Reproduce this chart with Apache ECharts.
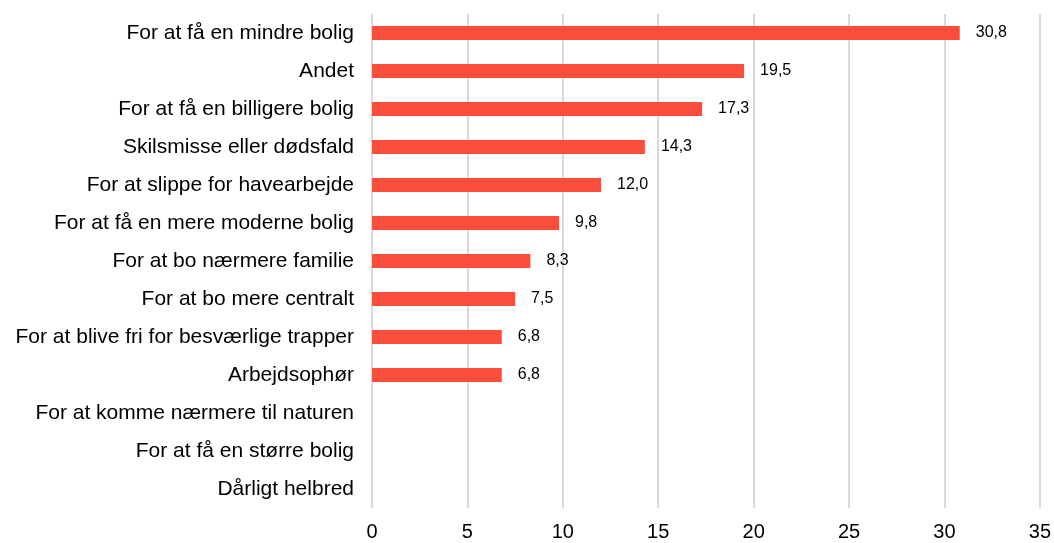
<!DOCTYPE html>
<html><head><meta charset="utf-8">
<script src="https://cdn.jsdelivr.net/npm/echarts@6/dist/echarts.min.js"></script>
<style>html,body{margin:0;padding:0;background:#fff}#c{width:1054px;height:543px}</style>
</head><body><div id="c"></div>
<script>
const categories = [
  "For at få en mindre bolig",
  "Andet",
  "For at få en billigere bolig",
  "Skilsmisse eller dødsfald",
  "For at slippe for havearbejde",
  "For at få en mere moderne bolig",
  "For at bo nærmere familie",
  "For at bo mere centralt",
  "For at blive fri for besværlige trapper",
  "Arbejdsophør",
  "For at komme nærmere til naturen",
  "For at få en større bolig",
  "Dårligt helbred"
];
const values = [30.8, 19.5, 17.3, 14.3, 12.0, 9.8, 8.3, 7.5, 6.8, 6.8, null, null, null];
const xTicks = [0, 5, 10, 15, 20, 25, 30, 35];

const chart = echarts.init(document.getElementById('c'), null, {renderer: 'canvas'});
chart.setOption({
  animation: false,
  grid: {left: 372, right: 13, top: 14, bottom: 35, containLabel: false},
  xAxis: {
    type: 'value', min: xTicks[0], max: xTicks[xTicks.length - 1], interval: 5,
    axisLine: {show: false}, axisTick: {show: false},
    axisLabel: {color: '#000', fontSize: 20, fontFamily: 'Liberation Sans, Arial, sans-serif', margin: 14},
    splitLine: {show: true, lineStyle: {color: '#d9d9d9', width: 2}}
  },
  yAxis: {
    type: 'category', data: categories, inverse: true,
    axisLine: {show: false}, axisTick: {show: false},
    axisLabel: {color: '#000', fontSize: 21, fontFamily: 'Liberation Sans, Arial, sans-serif', margin: 18}
  },
  series: [{
    type: 'bar', data: values, barWidth: 14,
    itemStyle: {color: '#FA4D3C'},
    label: {
      show: true, position: 'right', distance: 16, color: '#000', fontSize: 16,
      fontFamily: 'Liberation Sans, Arial, sans-serif',
      formatter: p => p.value == null ? '' : p.value.toFixed(1).replace('.', ',')
    }
  }]
});
</script></body></html>
